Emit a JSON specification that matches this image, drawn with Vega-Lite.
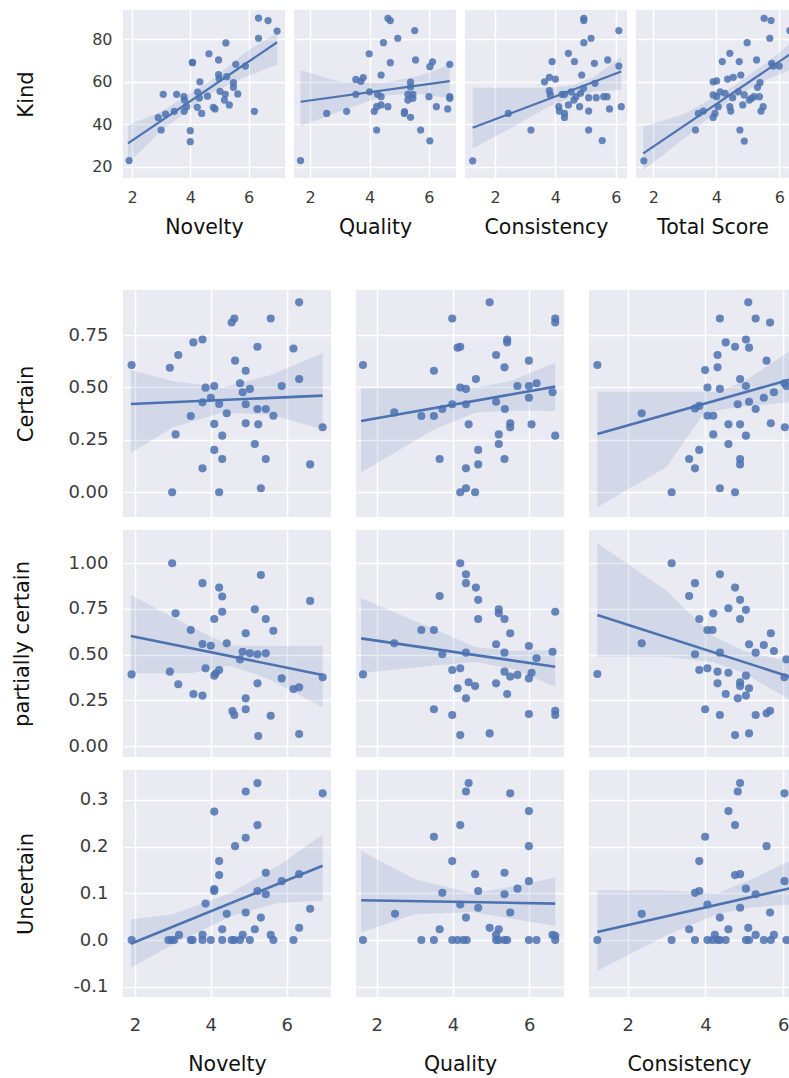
{
"$schema":"https://vega.github.io/schema/vega-lite/v6.json",
"background":"#ffffff",
"padding":{"left":10,"top":10,"right":0,"bottom":0},
"spacing":52,
"config":{"view":{"fill":"#EAEAF2","stroke":null},
"axis":{"domain":false,"ticks":false,"tickSize":0,"gridColor":"#ffffff","gridWidth":1.5,"labelFont":"DejaVu Sans","titleFont":"DejaVu Sans","labelColor":"#3c3c3c","titleColor":"#111111","titleFontWeight":"normal"},
"axisX":{"titleFontSize":20.5},"axisY":{"titleFontSize":21}},
"datasets":{
"pts":[
{"p":"kn","x":1.9,"y":22.9},{"p":"kn","x":2.9,"y":43.1},{"p":"kn","x":3.0,"y":37.3},{"p":"kn","x":3.07,"y":54.1},{"p":"kn","x":3.15,"y":44.8},{"p":"kn","x":3.45,"y":46.1},{"p":"kn","x":3.53,"y":54.1},{"p":"kn","x":3.78,"y":53},{"p":"kn","x":3.79,"y":46.1},{"p":"kn","x":3.8,"y":51.4},{"p":"kn","x":3.87,"y":48.3},{"p":"kn","x":4.0,"y":37},{"p":"kn","x":4.0,"y":31.8},{"p":"kn","x":4.07,"y":69.2},{"p":"kn","x":4.08,"y":69.0},{"p":"kn","x":4.24,"y":48},{"p":"kn","x":4.25,"y":55.2},{"p":"kn","x":4.31,"y":52.4},{"p":"kn","x":4.33,"y":60},{"p":"kn","x":4.39,"y":45.1},{"p":"kn","x":4.59,"y":53.2},{"p":"kn","x":4.64,"y":73.2},{"p":"kn","x":4.79,"y":48},{"p":"kn","x":4.85,"y":47.2},{"p":"kn","x":4.97,"y":70.3},{"p":"kn","x":4.97,"y":63.4},{"p":"kn","x":4.99,"y":61.6},{"p":"kn","x":5.02,"y":55.5},{"p":"kn","x":5.22,"y":78.3},{"p":"kn","x":5.2,"y":54.1},{"p":"kn","x":5.17,"y":51.4},{"p":"kn","x":5.25,"y":62.4},{"p":"kn","x":5.34,"y":49.1},{"p":"kn","x":5.48,"y":59.6},{"p":"kn","x":5.48,"y":57.4},{"p":"kn","x":5.56,"y":68.2},{"p":"kn","x":5.63,"y":54.3},{"p":"kn","x":5.89,"y":67.4},{"p":"kn","x":6.2,"y":46.1},{"p":"kn","x":6.34,"y":90},{"p":"kn","x":6.34,"y":80.5},{"p":"kn","x":6.67,"y":88.8},{"p":"kn","x":6.98,"y":83.9},
{"p":"kq","x":1.68,"y":22.9},{"p":"kq","x":2.56,"y":45.1},{"p":"kq","x":3.23,"y":46.1},{"p":"kq","x":3.54,"y":61.1},{"p":"kq","x":3.54,"y":54.1},{"p":"kq","x":3.71,"y":60.2},{"p":"kq","x":3.79,"y":62},{"p":"kq","x":3.99,"y":73.2},{"p":"kq","x":4.0,"y":55.3},{"p":"kq","x":4.16,"y":46.1},{"p":"kq","x":4.24,"y":37.3},{"p":"kq","x":4.24,"y":48.3},{"p":"kq","x":4.27,"y":54.1},{"p":"kq","x":4.39,"y":53},{"p":"kq","x":4.39,"y":63.2},{"p":"kq","x":4.39,"y":49.1},{"p":"kq","x":4.47,"y":78.4},{"p":"kq","x":4.62,"y":89.9},{"p":"kq","x":4.7,"y":88.8},{"p":"kq","x":4.7,"y":69},{"p":"kq","x":4.62,"y":48.3},{"p":"kq","x":4.95,"y":80.5},{"p":"kq","x":5.52,"y":84.1},{"p":"kq","x":5.55,"y":70.3},{"p":"kq","x":5.38,"y":59.8},{"p":"kq","x":5.38,"y":57.6},{"p":"kq","x":5.29,"y":54.1},{"p":"kq","x":5.29,"y":51.4},{"p":"kq","x":5.46,"y":54.1},{"p":"kq","x":5.46,"y":52.2},{"p":"kq","x":5.18,"y":46},{"p":"kq","x":5.17,"y":45.1},{"p":"kq","x":5.38,"y":43.3},{"p":"kq","x":5.72,"y":37.3},{"p":"kq","x":6.03,"y":32.2},{"p":"kq","x":6.03,"y":67.1},{"p":"kq","x":6.12,"y":69.4},{"p":"kq","x":6.0,"y":53},{"p":"kq","x":6.25,"y":48.3},{"p":"kq","x":6.63,"y":47.2},{"p":"kq","x":6.7,"y":53},{"p":"kq","x":6.7,"y":52.2},{"p":"kq","x":6.7,"y":68.2},
{"p":"kc","x":1.26,"y":22.8},{"p":"kc","x":2.44,"y":45.1},{"p":"kc","x":3.19,"y":37.3},{"p":"kc","x":3.64,"y":60},{"p":"kc","x":3.8,"y":62.1},{"p":"kc","x":3.89,"y":69.5},{"p":"kc","x":4.0,"y":61.3},{"p":"kc","x":3.8,"y":55.8},{"p":"kc","x":3.83,"y":53.8},{"p":"kc","x":4.11,"y":48.3},{"p":"kc","x":4.13,"y":46.2},{"p":"kc","x":4.3,"y":45.1},{"p":"kc","x":4.3,"y":43.2},{"p":"kc","x":4.22,"y":54.1},{"p":"kc","x":4.3,"y":54.1},{"p":"kc","x":4.43,"y":73.4},{"p":"kc","x":4.43,"y":49.1},{"p":"kc","x":4.52,"y":55.3},{"p":"kc","x":4.61,"y":51.4},{"p":"kc","x":4.63,"y":69.5},{"p":"kc","x":4.68,"y":53},{"p":"kc","x":4.8,"y":48.3},{"p":"kc","x":4.83,"y":54.6},{"p":"kc","x":4.87,"y":63.2},{"p":"kc","x":4.93,"y":56.9},{"p":"kc","x":4.94,"y":89.9},{"p":"kc","x":4.94,"y":88.8},{"p":"kc","x":4.94,"y":78.4},{"p":"kc","x":5.1,"y":52.5},{"p":"kc","x":5.1,"y":46.2},{"p":"kc","x":5.1,"y":37.3},{"p":"kc","x":5.18,"y":80.5},{"p":"kc","x":5.29,"y":68.7},{"p":"kc","x":5.31,"y":59.3},{"p":"kc","x":5.35,"y":52.5},{"p":"kc","x":5.55,"y":32.3},{"p":"kc","x":5.6,"y":53},{"p":"kc","x":5.71,"y":53},{"p":"kc","x":5.73,"y":70.3},{"p":"kc","x":5.79,"y":47.2},{"p":"kc","x":6.1,"y":84.1},{"p":"kc","x":6.1,"y":67.4},{"p":"kc","x":6.18,"y":48.3},
{"p":"kt","x":1.7,"y":22.8},{"p":"kt","x":3.34,"y":37.3},{"p":"kt","x":3.43,"y":45.1},{"p":"kt","x":3.59,"y":46.2},{"p":"kt","x":3.9,"y":60},{"p":"kt","x":3.9,"y":53.8},{"p":"kt","x":3.9,"y":43.2},{"p":"kt","x":3.96,"y":45.1},{"p":"kt","x":4.01,"y":60.4},{"p":"kt","x":4.01,"y":53},{"p":"kt","x":4.06,"y":48.3},{"p":"kt","x":4.12,"y":55.3},{"p":"kt","x":4.19,"y":69.5},{"p":"kt","x":4.28,"y":54.6},{"p":"kt","x":4.36,"y":61.3},{"p":"kt","x":4.43,"y":73.4},{"p":"kt","x":4.43,"y":48.3},{"p":"kt","x":4.46,"y":46.2},{"p":"kt","x":4.52,"y":52.5},{"p":"kt","x":4.54,"y":62.1},{"p":"kt","x":4.7,"y":55.3},{"p":"kt","x":4.73,"y":69.5},{"p":"kt","x":4.75,"y":37.3},{"p":"kt","x":4.78,"y":63.2},{"p":"kt","x":4.84,"y":49.1},{"p":"kt","x":4.89,"y":53.8},{"p":"kt","x":4.89,"y":32.1},{"p":"kt","x":4.98,"y":78.4},{"p":"kt","x":5.05,"y":51.4},{"p":"kt","x":5.12,"y":52.2},{"p":"kt","x":5.2,"y":53},{"p":"kt","x":5.28,"y":70.3},{"p":"kt","x":5.31,"y":57.4},{"p":"kt","x":5.37,"y":53},{"p":"kt","x":5.39,"y":59.6},{"p":"kt","x":5.42,"y":46.2},{"p":"kt","x":5.49,"y":48.3},{"p":"kt","x":5.52,"y":89.9},{"p":"kt","x":5.7,"y":80.5},{"p":"kt","x":5.74,"y":88.8},{"p":"kt","x":5.76,"y":68.7},{"p":"kt","x":5.81,"y":67.4},{"p":"kt","x":6.0,"y":67.4},{"p":"kt","x":6.34,"y":84.1},
{"p":"cn","x":1.91,"y":0.607},{"p":"cn","x":2.92,"y":0.594},{"p":"cn","x":3.07,"y":0.276},{"p":"cn","x":2.98,"y":0.0},{"p":"cn","x":3.14,"y":0.655},{"p":"cn","x":3.47,"y":0.364},{"p":"cn","x":3.54,"y":0.715},{"p":"cn","x":3.78,"y":0.729},{"p":"cn","x":3.78,"y":0.429},{"p":"cn","x":3.78,"y":0.114},{"p":"cn","x":3.86,"y":0.499},{"p":"cn","x":4.0,"y":0.451},{"p":"cn","x":4.09,"y":0.507},{"p":"cn","x":4.09,"y":0.326},{"p":"cn","x":4.09,"y":0.202},{"p":"cn","x":4.22,"y":0.421},{"p":"cn","x":4.22,"y":0.0},{"p":"cn","x":4.3,"y":0.27},{"p":"cn","x":4.3,"y":0.159},{"p":"cn","x":4.42,"y":0.377},{"p":"cn","x":4.55,"y":0.81},{"p":"cn","x":4.62,"y":0.829},{"p":"cn","x":4.64,"y":0.628},{"p":"cn","x":4.77,"y":0.52},{"p":"cn","x":4.84,"y":0.477},{"p":"cn","x":4.92,"y":0.58},{"p":"cn","x":4.92,"y":0.42},{"p":"cn","x":4.92,"y":0.329},{"p":"cn","x":5.03,"y":0.493},{"p":"cn","x":5.16,"y":0.23},{"p":"cn","x":5.23,"y":0.694},{"p":"cn","x":5.23,"y":0.397},{"p":"cn","x":5.25,"y":0.324},{"p":"cn","x":5.32,"y":0.019},{"p":"cn","x":5.45,"y":0.397},{"p":"cn","x":5.45,"y":0.159},{"p":"cn","x":5.58,"y":0.829},{"p":"cn","x":5.65,"y":0.365},{"p":"cn","x":5.87,"y":0.507},{"p":"cn","x":6.18,"y":0.686},{"p":"cn","x":6.33,"y":0.906},{"p":"cn","x":6.33,"y":0.54},{"p":"cn","x":6.62,"y":0.133},{"p":"cn","x":6.95,"y":0.31},
{"p":"pn","x":1.91,"y":0.392},{"p":"pn","x":2.92,"y":0.407},{"p":"pn","x":2.98,"y":1.0},{"p":"pn","x":3.07,"y":0.726},{"p":"pn","x":3.14,"y":0.338},{"p":"pn","x":3.47,"y":0.635},{"p":"pn","x":3.54,"y":0.285},{"p":"pn","x":3.78,"y":0.276},{"p":"pn","x":3.78,"y":0.558},{"p":"pn","x":3.78,"y":0.891},{"p":"pn","x":3.86,"y":0.425},{"p":"pn","x":4.0,"y":0.549},{"p":"pn","x":4.09,"y":0.695},{"p":"pn","x":4.09,"y":0.385},{"p":"pn","x":4.13,"y":0.398},{"p":"pn","x":4.22,"y":0.416},{"p":"pn","x":4.22,"y":0.867},{"p":"pn","x":4.3,"y":0.818},{"p":"pn","x":4.3,"y":0.735},{"p":"pn","x":4.42,"y":0.562},{"p":"pn","x":4.57,"y":0.192},{"p":"pn","x":4.62,"y":0.17},{"p":"pn","x":4.77,"y":0.474},{"p":"pn","x":4.84,"y":0.516},{"p":"pn","x":4.92,"y":0.617},{"p":"pn","x":4.92,"y":0.261},{"p":"pn","x":4.92,"y":0.201},{"p":"pn","x":5.03,"y":0.507},{"p":"pn","x":5.16,"y":0.748},{"p":"pn","x":5.23,"y":0.502},{"p":"pn","x":5.23,"y":0.343},{"p":"pn","x":5.25,"y":0.055},{"p":"pn","x":5.32,"y":0.936},{"p":"pn","x":5.45,"y":0.507},{"p":"pn","x":5.45,"y":0.695},{"p":"pn","x":5.58,"y":0.166},{"p":"pn","x":5.65,"y":0.631},{"p":"pn","x":5.87,"y":0.37},{"p":"pn","x":6.18,"y":0.312},{"p":"pn","x":6.33,"y":0.321},{"p":"pn","x":6.33,"y":0.066},{"p":"pn","x":6.62,"y":0.794},{"p":"pn","x":6.95,"y":0.376},
{"p":"un","x":1.91,"y":0},{"p":"un","x":2.88,"y":0},{"p":"un","x":2.97,"y":0},{"p":"un","x":3.03,"y":0},{"p":"un","x":3.16,"y":0.011},{"p":"un","x":3.47,"y":0},{"p":"un","x":3.52,"y":0},{"p":"un","x":3.78,"y":0},{"p":"un","x":3.78,"y":0.011},{"p":"un","x":3.86,"y":0.078},{"p":"un","x":4.0,"y":0},{"p":"un","x":4.09,"y":0.275},{"p":"un","x":4.09,"y":0.109},{"p":"un","x":4.09,"y":0.105},{"p":"un","x":4.22,"y":0.169},{"p":"un","x":4.22,"y":0.139},{"p":"un","x":4.3,"y":0.023},{"p":"un","x":4.3,"y":0},{"p":"un","x":4.42,"y":0.056},{"p":"un","x":4.55,"y":0},{"p":"un","x":4.62,"y":0},{"p":"un","x":4.64,"y":0.201},{"p":"un","x":4.77,"y":0},{"p":"un","x":4.84,"y":0.011},{"p":"un","x":4.92,"y":0.318},{"p":"un","x":4.92,"y":0.219},{"p":"un","x":4.92,"y":0.059},{"p":"un","x":5.03,"y":0},{"p":"un","x":5.16,"y":0.023},{"p":"un","x":5.23,"y":0.336},{"p":"un","x":5.23,"y":0.246},{"p":"un","x":5.23,"y":0.105},{"p":"un","x":5.32,"y":0.048},{"p":"un","x":5.45,"y":0.144},{"p":"un","x":5.45,"y":0.098},{"p":"un","x":5.58,"y":0.011},{"p":"un","x":5.65,"y":0},{"p":"un","x":5.87,"y":0.126},{"p":"un","x":6.18,"y":0},{"p":"un","x":6.33,"y":0.141},{"p":"un","x":6.33,"y":0.026},{"p":"un","x":6.62,"y":0.067},{"p":"un","x":6.95,"y":0.314},
{"p":"cq","x":1.64,"y":0.607},{"p":"cq","x":2.46,"y":0.381},{"p":"cq","x":3.17,"y":0.364},{"p":"cq","x":3.5,"y":0.364},{"p":"cq","x":3.5,"y":0.58},{"p":"cq","x":3.65,"y":0.159},{"p":"cq","x":3.72,"y":0.397},{"p":"cq","x":3.98,"y":0.42},{"p":"cq","x":3.98,"y":0.829},{"p":"cq","x":4.12,"y":0.69},{"p":"cq","x":4.19,"y":0.694},{"p":"cq","x":4.19,"y":0.5},{"p":"cq","x":4.34,"y":0.493},{"p":"cq","x":4.34,"y":0.42},{"p":"cq","x":4.41,"y":0.324},{"p":"cq","x":4.34,"y":0.114},{"p":"cq","x":4.19,"y":0.0},{"p":"cq","x":4.34,"y":0.019},{"p":"cq","x":4.58,"y":0.0},{"p":"cq","x":4.6,"y":0.54},{"p":"cq","x":4.66,"y":0.202},{"p":"cq","x":4.66,"y":0.133},{"p":"cq","x":4.96,"y":0.906},{"p":"cq","x":5.13,"y":0.655},{"p":"cq","x":5.13,"y":0.432},{"p":"cq","x":5.2,"y":0.276},{"p":"cq","x":5.2,"y":0.23},{"p":"cq","x":5.35,"y":0.596},{"p":"cq","x":5.36,"y":0.397},{"p":"cq","x":5.35,"y":0.159},{"p":"cq","x":5.42,"y":0.729},{"p":"cq","x":5.42,"y":0.715},{"p":"cq","x":5.5,"y":0.329},{"p":"cq","x":5.5,"y":0.31},{"p":"cq","x":5.69,"y":0.507},{"p":"cq","x":5.99,"y":0.628},{"p":"cq","x":5.99,"y":0.507},{"p":"cq","x":5.99,"y":0.451},{"p":"cq","x":6.06,"y":0.324},{"p":"cq","x":6.19,"y":0.52},{"p":"cq","x":6.61,"y":0.477},{"p":"cq","x":6.68,"y":0.829},{"p":"cq","x":6.68,"y":0.81},{"p":"cq","x":6.68,"y":0.27},
{"p":"pq","x":1.64,"y":0.392},{"p":"pq","x":2.46,"y":0.562},{"p":"pq","x":3.17,"y":0.635},{"p":"pq","x":3.5,"y":0.635},{"p":"pq","x":3.65,"y":0.821},{"p":"pq","x":3.5,"y":0.201},{"p":"pq","x":3.72,"y":0.502},{"p":"pq","x":3.98,"y":0.416},{"p":"pq","x":3.98,"y":0.17},{"p":"pq","x":4.19,"y":1.0},{"p":"pq","x":4.34,"y":0.94},{"p":"pq","x":4.34,"y":0.891},{"p":"pq","x":4.19,"y":0.425},{"p":"pq","x":4.34,"y":0.511},{"p":"pq","x":4.41,"y":0.349},{"p":"pq","x":4.34,"y":0.261},{"p":"pq","x":4.12,"y":0.316},{"p":"pq","x":4.19,"y":0.06},{"p":"pq","x":4.58,"y":0.328},{"p":"pq","x":4.6,"y":0.867},{"p":"pq","x":4.66,"y":0.8},{"p":"pq","x":4.66,"y":0.695},{"p":"pq","x":4.96,"y":0.069},{"p":"pq","x":5.13,"y":0.557},{"p":"pq","x":5.13,"y":0.343},{"p":"pq","x":5.2,"y":0.748},{"p":"pq","x":5.2,"y":0.726},{"p":"pq","x":5.35,"y":0.695},{"p":"pq","x":5.35,"y":0.511},{"p":"pq","x":5.35,"y":0.407},{"p":"pq","x":5.42,"y":0.285},{"p":"pq","x":5.5,"y":0.617},{"p":"pq","x":5.5,"y":0.38},{"p":"pq","x":5.69,"y":0.389},{"p":"pq","x":5.99,"y":0.547},{"p":"pq","x":5.99,"y":0.37},{"p":"pq","x":5.99,"y":0.175},{"p":"pq","x":6.06,"y":0.401},{"p":"pq","x":6.19,"y":0.48},{"p":"pq","x":6.61,"y":0.516},{"p":"pq","x":6.68,"y":0.735},{"p":"pq","x":6.68,"y":0.193},{"p":"pq","x":6.68,"y":0.17},
{"p":"uq","x":1.64,"y":0},{"p":"uq","x":2.48,"y":0.056},{"p":"uq","x":3.17,"y":0},{"p":"uq","x":3.5,"y":0},{"p":"uq","x":3.5,"y":0.221},{"p":"uq","x":3.65,"y":0.023},{"p":"uq","x":3.72,"y":0.101},{"p":"uq","x":3.98,"y":0},{"p":"uq","x":3.98,"y":0.169},{"p":"uq","x":4.12,"y":0},{"p":"uq","x":4.19,"y":0.246},{"p":"uq","x":4.19,"y":0.076},{"p":"uq","x":4.27,"y":0},{"p":"uq","x":4.34,"y":0.318},{"p":"uq","x":4.41,"y":0.336},{"p":"uq","x":4.34,"y":0.048},{"p":"uq","x":4.36,"y":0},{"p":"uq","x":4.58,"y":0.141},{"p":"uq","x":4.66,"y":0.105},{"p":"uq","x":4.66,"y":0.069},{"p":"uq","x":4.96,"y":0.026},{"p":"uq","x":5.13,"y":0.011},{"p":"uq","x":5.13,"y":0},{"p":"uq","x":5.2,"y":0.023},{"p":"uq","x":5.2,"y":0},{"p":"uq","x":5.35,"y":0.144},{"p":"uq","x":5.35,"y":0.098},{"p":"uq","x":5.35,"y":0},{"p":"uq","x":5.42,"y":0},{"p":"uq","x":5.5,"y":0.314},{"p":"uq","x":5.5,"y":0.059},{"p":"uq","x":5.69,"y":0.11},{"p":"uq","x":5.99,"y":0.276},{"p":"uq","x":5.99,"y":0.201},{"p":"uq","x":5.99,"y":0.126},{"p":"uq","x":5.99,"y":0},{"p":"uq","x":6.19,"y":0},{"p":"uq","x":6.61,"y":0.011},{"p":"uq","x":6.68,"y":0},{"p":"uq","x":6.68,"y":0.009},
{"p":"cc","x":1.22,"y":0.607},{"p":"cc","x":2.36,"y":0.377},{"p":"cc","x":3.13,"y":0.0},{"p":"cc","x":3.58,"y":0.159},{"p":"cc","x":3.73,"y":0.114},{"p":"cc","x":3.73,"y":0.4},{"p":"cc","x":3.84,"y":0.202},{"p":"cc","x":3.84,"y":0.412},{"p":"cc","x":3.99,"y":0.583},{"p":"cc","x":4.05,"y":0.5},{"p":"cc","x":4.05,"y":0.365},{"p":"cc","x":4.2,"y":0.365},{"p":"cc","x":4.2,"y":0.276},{"p":"cc","x":4.31,"y":0.596},{"p":"cc","x":4.31,"y":0.655},{"p":"cc","x":4.37,"y":0.829},{"p":"cc","x":4.37,"y":0.493},{"p":"cc","x":4.37,"y":0.019},{"p":"cc","x":4.52,"y":0.715},{"p":"cc","x":4.59,"y":0.324},{"p":"cc","x":4.59,"y":0.23},{"p":"cc","x":4.76,"y":0.694},{"p":"cc","x":4.76,"y":0.0},{"p":"cc","x":4.83,"y":0.42},{"p":"cc","x":4.89,"y":0.54},{"p":"cc","x":4.89,"y":0.324},{"p":"cc","x":4.89,"y":0.159},{"p":"cc","x":4.89,"y":0.133},{"p":"cc","x":5.04,"y":0.729},{"p":"cc","x":5.04,"y":0.507},{"p":"cc","x":5.04,"y":0.27},{"p":"cc","x":5.1,"y":0.906},{"p":"cc","x":5.12,"y":0.69},{"p":"cc","x":5.12,"y":0.432},{"p":"cc","x":5.29,"y":0.829},{"p":"cc","x":5.29,"y":0.397},{"p":"cc","x":5.5,"y":0.451},{"p":"cc","x":5.57,"y":0.628},{"p":"cc","x":5.66,"y":0.81},{"p":"cc","x":5.68,"y":0.329},{"p":"cc","x":5.76,"y":0.477},{"p":"cc","x":6.03,"y":0.52},{"p":"cc","x":6.04,"y":0.31},{"p":"cc","x":6.08,"y":0.507},
{"p":"pc","x":1.22,"y":0.394},{"p":"pc","x":2.36,"y":0.562},{"p":"pc","x":3.13,"y":1.0},{"p":"pc","x":3.58,"y":0.821},{"p":"pc","x":3.73,"y":0.891},{"p":"pc","x":3.73,"y":0.502},{"p":"pc","x":3.84,"y":0.695},{"p":"pc","x":3.84,"y":0.416},{"p":"pc","x":3.99,"y":0.201},{"p":"pc","x":4.05,"y":0.635},{"p":"pc","x":4.05,"y":0.425},{"p":"pc","x":4.18,"y":0.635},{"p":"pc","x":4.2,"y":0.726},{"p":"pc","x":4.31,"y":0.407},{"p":"pc","x":4.31,"y":0.343},{"p":"pc","x":4.37,"y":0.94},{"p":"pc","x":4.37,"y":0.511},{"p":"pc","x":4.37,"y":0.17},{"p":"pc","x":4.52,"y":0.285},{"p":"pc","x":4.59,"y":0.754},{"p":"pc","x":4.59,"y":0.401},{"p":"pc","x":4.76,"y":0.867},{"p":"pc","x":4.83,"y":0.261},{"p":"pc","x":4.76,"y":0.06},{"p":"pc","x":4.89,"y":0.8},{"p":"pc","x":4.89,"y":0.695},{"p":"pc","x":4.89,"y":0.349},{"p":"pc","x":4.89,"y":0.328},{"p":"pc","x":5.04,"y":0.745},{"p":"pc","x":5.04,"y":0.385},{"p":"pc","x":5.04,"y":0.276},{"p":"pc","x":5.12,"y":0.316},{"p":"pc","x":5.12,"y":0.069},{"p":"pc","x":5.12,"y":0.557},{"p":"pc","x":5.29,"y":0.511},{"p":"pc","x":5.29,"y":0.17},{"p":"pc","x":5.5,"y":0.553},{"p":"pc","x":5.57,"y":0.179},{"p":"pc","x":5.66,"y":0.193},{"p":"pc","x":5.68,"y":0.617},{"p":"pc","x":5.76,"y":0.52},{"p":"pc","x":6.03,"y":0.376},{"p":"pc","x":6.08,"y":0.474},
{"p":"uc","x":1.22,"y":0},{"p":"uc","x":2.36,"y":0.056},{"p":"uc","x":3.13,"y":0},{"p":"uc","x":3.58,"y":0.023},{"p":"uc","x":3.73,"y":0},{"p":"uc","x":3.73,"y":0.101},{"p":"uc","x":3.84,"y":0.169},{"p":"uc","x":3.84,"y":0.105},{"p":"uc","x":3.99,"y":0.221},{"p":"uc","x":4.05,"y":0},{"p":"uc","x":4.05,"y":0.076},{"p":"uc","x":4.18,"y":0},{"p":"uc","x":4.24,"y":0.011},{"p":"uc","x":4.31,"y":0},{"p":"uc","x":4.37,"y":0.048},{"p":"uc","x":4.37,"y":0},{"p":"uc","x":4.52,"y":0},{"p":"uc","x":4.59,"y":0.276},{"p":"uc","x":4.59,"y":0.023},{"p":"uc","x":4.76,"y":0.246},{"p":"uc","x":4.76,"y":0.139},{"p":"uc","x":4.83,"y":0.318},{"p":"uc","x":4.89,"y":0.336},{"p":"uc","x":4.89,"y":0.141},{"p":"uc","x":4.89,"y":0.069},{"p":"uc","x":5.04,"y":0.11},{"p":"uc","x":5.04,"y":0},{"p":"uc","x":5.1,"y":0.026},{"p":"uc","x":5.12,"y":0},{"p":"uc","x":5.29,"y":0.098},{"p":"uc","x":5.29,"y":0.011},{"p":"uc","x":5.5,"y":0},{"p":"uc","x":5.57,"y":0.201},{"p":"uc","x":5.66,"y":0.059},{"p":"uc","x":5.68,"y":0},{"p":"uc","x":5.76,"y":0.011},{"p":"uc","x":6.03,"y":0.314},{"p":"uc","x":6.03,"y":0.126},{"p":"uc","x":6.08,"y":0}
],
"fit":[
{"p":"kn","x":1.86,"y":31.0},{"p":"kn","x":6.98,"y":78.6},
{"p":"kq","x":1.68,"y":50.6},{"p":"kq","x":6.7,"y":60.3},
{"p":"kc","x":1.26,"y":38.4},{"p":"kc","x":6.18,"y":64.8},
{"p":"kt","x":1.68,"y":26.3},{"p":"kt","x":6.4,"y":73.5},
{"p":"cn","x":1.89,"y":0.421},{"p":"cn","x":6.95,"y":0.461},
{"p":"cq","x":1.59,"y":0.34},{"p":"cq","x":6.68,"y":0.504},
{"p":"cc","x":1.22,"y":0.278},{"p":"cc","x":6.18,"y":0.538},
{"p":"pn","x":1.89,"y":0.602},{"p":"pn","x":6.95,"y":0.389},
{"p":"pq","x":1.59,"y":0.589},{"p":"pq","x":6.68,"y":0.434},
{"p":"pc","x":1.22,"y":0.717},{"p":"pc","x":6.18,"y":0.378},
{"p":"un","x":1.89,"y":-0.008},{"p":"un","x":6.95,"y":0.159},
{"p":"uq","x":1.59,"y":0.085},{"p":"uq","x":6.68,"y":0.078},
{"p":"uc","x":1.22,"y":0.017},{"p":"uc","x":6.18,"y":0.111}
],
"band":[
{"p":"kn","x":1.86,"y":21.6,"hi":39.5},{"p":"kn","x":3.0,"y":37,"hi":46},{"p":"kn","x":4.7,"y":54.5,"hi":60.5},{"p":"kn","x":6.0,"y":63,"hi":75},{"p":"kn","x":6.98,"y":68,"hi":83},
{"p":"kq","x":1.68,"y":39.1,"hi":65.5},{"p":"kq","x":3.0,"y":46,"hi":60},{"p":"kq","x":4.5,"y":53.5,"hi":59.5},{"p":"kq","x":5.6,"y":54.5,"hi":62.5},{"p":"kq","x":6.7,"y":52.2,"hi":67.9},
{"p":"kc","x":1.26,"y":28.6,"hi":57.2},{"p":"kc","x":2.5,"y":38,"hi":57.2},{"p":"kc","x":3.8,"y":48.5,"hi":57.2},{"p":"kc","x":4.6,"y":53,"hi":58.5},{"p":"kc","x":5.3,"y":55.5,"hi":62.5},{"p":"kc","x":6.18,"y":56.1,"hi":71.8},
{"p":"kt","x":1.68,"y":18.4,"hi":38.8},{"p":"kt","x":3.0,"y":33.5,"hi":45},{"p":"kt","x":4.5,"y":52,"hi":57.5},{"p":"kt","x":5.6,"y":61,"hi":69},{"p":"kt","x":6.4,"y":66,"hi":78.5},
{"p":"cn","x":1.89,"y":0.187,"hi":0.583},{"p":"cn","x":3.0,"y":0.31,"hi":0.53},{"p":"cn","x":4.3,"y":0.38,"hi":0.50},{"p":"cn","x":5.6,"y":0.37,"hi":0.56},{"p":"cn","x":6.95,"y":0.30,"hi":0.664},
{"p":"cq","x":1.59,"y":0.094,"hi":0.496},{"p":"cq","x":3.5,"y":0.30,"hi":0.496},{"p":"cq","x":4.6,"y":0.38,"hi":0.50},{"p":"cq","x":5.5,"y":0.39,"hi":0.53},{"p":"cq","x":6.68,"y":0.388,"hi":0.618},
{"p":"cc","x":1.22,"y":-0.072,"hi":0.48},{"p":"cc","x":3.0,"y":0.12,"hi":0.48},{"p":"cc","x":3.93,"y":0.37,"hi":0.48},{"p":"cc","x":4.3,"y":0.39,"hi":0.48},{"p":"cc","x":5.0,"y":0.41,"hi":0.53},{"p":"cc","x":6.18,"y":0.43,"hi":0.675},
{"p":"pn","x":1.89,"y":0.398,"hi":0.827},{"p":"pn","x":3.5,"y":0.40,"hi":0.65},{"p":"pn","x":4.5,"y":0.44,"hi":0.55},{"p":"pn","x":5.5,"y":0.37,"hi":0.547},{"p":"pn","x":6.95,"y":0.212,"hi":0.547},
{"p":"pq","x":1.59,"y":0.398,"hi":0.808},{"p":"pq","x":3.5,"y":0.44,"hi":0.64},{"p":"pq","x":4.6,"y":0.46,"hi":0.54},{"p":"pq","x":5.6,"y":0.42,"hi":0.52},{"p":"pq","x":6.68,"y":0.325,"hi":0.526},
{"p":"pc","x":1.22,"y":0.489,"hi":1.109},{"p":"pc","x":3.0,"y":0.489,"hi":0.85},{"p":"pc","x":4.2,"y":0.46,"hi":0.60},{"p":"pc","x":5.0,"y":0.40,"hi":0.52},{"p":"pc","x":6.18,"y":0.25,"hi":0.46},
{"p":"un","x":1.89,"y":-0.059,"hi":0.044},{"p":"un","x":3.0,"y":-0.01,"hi":0.055},{"p":"un","x":4.5,"y":0.05,"hi":0.10},{"p":"un","x":5.8,"y":0.08,"hi":0.16},{"p":"un","x":6.95,"y":0.084,"hi":0.226},
{"p":"uq","x":1.59,"y":0.016,"hi":0.191},{"p":"uq","x":3.0,"y":0.055,"hi":0.13},{"p":"uq","x":4.5,"y":0.06,"hi":0.10},{"p":"uq","x":5.6,"y":0.045,"hi":0.115},{"p":"uq","x":6.68,"y":0.03,"hi":0.134},
{"p":"uc","x":1.22,"y":-0.066,"hi":0.106},{"p":"uc","x":3.0,"y":0.01,"hi":0.106},{"p":"uc","x":4.3,"y":0.055,"hi":0.10},{"p":"uc","x":5.2,"y":0.07,"hi":0.13},{"p":"uc","x":6.18,"y":0.076,"hi":0.17}
]
},
"vconcat":[
{"hconcat":[
{"width":162,"height":168,
"encoding":{"x":{"field":"x","type":"quantitative","scale":{"domain":[1.69,7.25],"nice":false,"zero":false},"axis":{"values":[2,4,6],"title":"Novelty","labelFontSize":16,"labelPadding":11,"titleY":55,"titleBaseline":"alphabetic"}},
"y":{"field":"y","type":"quantitative","scale":{"domain":[14.7,93.8],"nice":false,"zero":false},"axis":{"values":[20,40,60,80],"title":"Kind","titleX":-91,"titleBaseline":"alphabetic","labelFontSize":16,"labelPadding":11}}},
"layer":[
{"data":{"name":"band"},"transform":[{"filter":"datum.p=='kn'"}],"mark":{"type":"area","color":"#4C72B0","opacity":0.15,"clip":true},"encoding":{"y2":{"field":"hi"}}},
{"data":{"name":"fit"},"transform":[{"filter":"datum.p=='kn'"}],"mark":{"type":"line","color":"#4C72B0","strokeWidth":2.2,"clip":true},"encoding":{}},
{"data":{"name":"pts"},"transform":[{"filter":"datum.p=='kn'"}],"mark":{"type":"circle","color":"#4C72B0","opacity":0.85,"size":52,"clip":true},"encoding":{}}]},
{"width":162,"height":168,
"encoding":{"x":{"field":"x","type":"quantitative","scale":{"domain":[1.46,6.91],"nice":false,"zero":false},"axis":{"values":[2,4,6],"title":"Quality","labelFontSize":16,"labelPadding":11,"titleY":55,"titleBaseline":"alphabetic"}},
"y":{"field":"y","type":"quantitative","scale":{"domain":[14.7,93.8],"nice":false,"zero":false},"axis":{"values":[20,40,60,80],"labels":false,"title":null}}},
"layer":[
{"data":{"name":"band"},"transform":[{"filter":"datum.p=='kq'"}],"mark":{"type":"area","color":"#4C72B0","opacity":0.15,"clip":true},"encoding":{"y2":{"field":"hi"}}},
{"data":{"name":"fit"},"transform":[{"filter":"datum.p=='kq'"}],"mark":{"type":"line","color":"#4C72B0","strokeWidth":2.2,"clip":true},"encoding":{}},
{"data":{"name":"pts"},"transform":[{"filter":"datum.p=='kq'"}],"mark":{"type":"circle","color":"#4C72B0","opacity":0.85,"size":52,"clip":true},"encoding":{}}]},
{"width":162,"height":168,
"encoding":{"x":{"field":"x","type":"quantitative","scale":{"domain":[1.006,6.37],"nice":false,"zero":false},"axis":{"values":[2,4,6],"title":"Consistency","labelFontSize":16,"labelPadding":11,"titleY":55,"titleBaseline":"alphabetic"}},
"y":{"field":"y","type":"quantitative","scale":{"domain":[14.7,93.8],"nice":false,"zero":false},"axis":{"values":[20,40,60,80],"labels":false,"title":null}}},
"layer":[
{"data":{"name":"band"},"transform":[{"filter":"datum.p=='kc'"}],"mark":{"type":"area","color":"#4C72B0","opacity":0.15,"clip":true},"encoding":{"y2":{"field":"hi"}}},
{"data":{"name":"fit"},"transform":[{"filter":"datum.p=='kc'"}],"mark":{"type":"line","color":"#4C72B0","strokeWidth":2.2,"clip":true},"encoding":{}},
{"data":{"name":"pts"},"transform":[{"filter":"datum.p=='kc'"}],"mark":{"type":"circle","color":"#4C72B0","opacity":0.85,"size":52,"clip":true},"encoding":{}}]},
{"width":153,"height":168,
"encoding":{"x":{"field":"x","type":"quantitative","scale":{"domain":[1.45,6.31],"nice":false,"zero":false},"axis":{"values":[2,4,6],"title":"Total Score","labelFontSize":16,"labelPadding":11,"titleY":55,"titleBaseline":"alphabetic"}},
"y":{"field":"y","type":"quantitative","scale":{"domain":[14.7,93.8],"nice":false,"zero":false},"axis":{"values":[20,40,60,80],"labels":false,"title":null}}},
"layer":[
{"data":{"name":"band"},"transform":[{"filter":"datum.p=='kt'"}],"mark":{"type":"area","color":"#4C72B0","opacity":0.15,"clip":true},"encoding":{"y2":{"field":"hi"}}},
{"data":{"name":"fit"},"transform":[{"filter":"datum.p=='kt'"}],"mark":{"type":"line","color":"#4C72B0","strokeWidth":2.2,"clip":true},"encoding":{}},
{"data":{"name":"pts"},"transform":[{"filter":"datum.p=='kt'"}],"mark":{"type":"circle","color":"#4C72B0","opacity":0.85,"size":52,"clip":true},"encoding":{}}]}
],"spacing":9,"bounds":"flush"},
{"concat":[
{"width":208,"height":227,
"encoding":{"x":{"field":"x","type":"quantitative","scale":{"domain":[1.683,7.17],"nice":false,"zero":false},"axis":{"values":[2,4,6],"labels":false,"title":null}},
"y":{"field":"y","type":"quantitative","scale":{"domain":[-0.118,0.965],"nice":false,"zero":false},"axis":{"values":[0,0.25,0.5,0.75],"format":".2f","title":"Certain","titleX":-91,"titleBaseline":"alphabetic","labelFontSize":18,"labelPadding":15}}},
"layer":[
{"data":{"name":"band"},"transform":[{"filter":"datum.p=='cn'"}],"mark":{"type":"area","color":"#4C72B0","opacity":0.15,"clip":true},"encoding":{"y2":{"field":"hi"}}},
{"data":{"name":"fit"},"transform":[{"filter":"datum.p=='cn'"}],"mark":{"type":"line","color":"#4C72B0","strokeWidth":2.6,"clip":true},"encoding":{}},
{"data":{"name":"pts"},"transform":[{"filter":"datum.p=='cn'"}],"mark":{"type":"circle","color":"#4C72B0","opacity":0.85,"size":66,"clip":true},"encoding":{}}]},
{"width":208,"height":227,
"encoding":{"x":{"field":"x","type":"quantitative","scale":{"domain":[1.457,6.91],"nice":false,"zero":false},"axis":{"values":[2,4,6],"labels":false,"title":null}},
"y":{"field":"y","type":"quantitative","scale":{"domain":[-0.118,0.965],"nice":false,"zero":false},"axis":{"values":[0,0.25,0.5,0.75],"labels":false,"title":null}}},
"layer":[
{"data":{"name":"band"},"transform":[{"filter":"datum.p=='cq'"}],"mark":{"type":"area","color":"#4C72B0","opacity":0.15,"clip":true},"encoding":{"y2":{"field":"hi"}}},
{"data":{"name":"fit"},"transform":[{"filter":"datum.p=='cq'"}],"mark":{"type":"line","color":"#4C72B0","strokeWidth":2.6,"clip":true},"encoding":{}},
{"data":{"name":"pts"},"transform":[{"filter":"datum.p=='cq'"}],"mark":{"type":"circle","color":"#4C72B0","opacity":0.85,"size":66,"clip":true},"encoding":{}}]},
{"width":200,"height":227,
"encoding":{"x":{"field":"x","type":"quantitative","scale":{"domain":[1.005,6.147],"nice":false,"zero":false},"axis":{"values":[2,4,6],"labels":false,"title":null}},
"y":{"field":"y","type":"quantitative","scale":{"domain":[-0.118,0.965],"nice":false,"zero":false},"axis":{"values":[0,0.25,0.5,0.75],"labels":false,"title":null}}},
"layer":[
{"data":{"name":"band"},"transform":[{"filter":"datum.p=='cc'"}],"mark":{"type":"area","color":"#4C72B0","opacity":0.15,"clip":true},"encoding":{"y2":{"field":"hi"}}},
{"data":{"name":"fit"},"transform":[{"filter":"datum.p=='cc'"}],"mark":{"type":"line","color":"#4C72B0","strokeWidth":2.6,"clip":true},"encoding":{}},
{"data":{"name":"pts"},"transform":[{"filter":"datum.p=='cc'"}],"mark":{"type":"circle","color":"#4C72B0","opacity":0.85,"size":66,"clip":true},"encoding":{}}]},
{"width":208,"height":227,
"encoding":{"x":{"field":"x","type":"quantitative","scale":{"domain":[1.683,7.17],"nice":false,"zero":false},"axis":{"values":[2,4,6],"labels":false,"title":null}},
"y":{"field":"y","type":"quantitative","scale":{"domain":[-0.06,1.182],"nice":false,"zero":false},"axis":{"values":[0,0.25,0.5,0.75,1],"format":".2f","title":"partially certain","titleX":-95,"titleBaseline":"alphabetic","labelFontSize":18,"labelPadding":15}}},
"layer":[
{"data":{"name":"band"},"transform":[{"filter":"datum.p=='pn'"}],"mark":{"type":"area","color":"#4C72B0","opacity":0.15,"clip":true},"encoding":{"y2":{"field":"hi"}}},
{"data":{"name":"fit"},"transform":[{"filter":"datum.p=='pn'"}],"mark":{"type":"line","color":"#4C72B0","strokeWidth":2.6,"clip":true},"encoding":{}},
{"data":{"name":"pts"},"transform":[{"filter":"datum.p=='pn'"}],"mark":{"type":"circle","color":"#4C72B0","opacity":0.85,"size":66,"clip":true},"encoding":{}}]},
{"width":208,"height":227,
"encoding":{"x":{"field":"x","type":"quantitative","scale":{"domain":[1.457,6.91],"nice":false,"zero":false},"axis":{"values":[2,4,6],"labels":false,"title":null}},
"y":{"field":"y","type":"quantitative","scale":{"domain":[-0.06,1.182],"nice":false,"zero":false},"axis":{"values":[0,0.25,0.5,0.75,1],"labels":false,"title":null}}},
"layer":[
{"data":{"name":"band"},"transform":[{"filter":"datum.p=='pq'"}],"mark":{"type":"area","color":"#4C72B0","opacity":0.15,"clip":true},"encoding":{"y2":{"field":"hi"}}},
{"data":{"name":"fit"},"transform":[{"filter":"datum.p=='pq'"}],"mark":{"type":"line","color":"#4C72B0","strokeWidth":2.6,"clip":true},"encoding":{}},
{"data":{"name":"pts"},"transform":[{"filter":"datum.p=='pq'"}],"mark":{"type":"circle","color":"#4C72B0","opacity":0.85,"size":66,"clip":true},"encoding":{}}]},
{"width":200,"height":227,
"encoding":{"x":{"field":"x","type":"quantitative","scale":{"domain":[1.005,6.147],"nice":false,"zero":false},"axis":{"values":[2,4,6],"labels":false,"title":null}},
"y":{"field":"y","type":"quantitative","scale":{"domain":[-0.06,1.182],"nice":false,"zero":false},"axis":{"values":[0,0.25,0.5,0.75,1],"labels":false,"title":null}}},
"layer":[
{"data":{"name":"band"},"transform":[{"filter":"datum.p=='pc'"}],"mark":{"type":"area","color":"#4C72B0","opacity":0.15,"clip":true},"encoding":{"y2":{"field":"hi"}}},
{"data":{"name":"fit"},"transform":[{"filter":"datum.p=='pc'"}],"mark":{"type":"line","color":"#4C72B0","strokeWidth":2.6,"clip":true},"encoding":{}},
{"data":{"name":"pts"},"transform":[{"filter":"datum.p=='pc'"}],"mark":{"type":"circle","color":"#4C72B0","opacity":0.85,"size":66,"clip":true},"encoding":{}}]},
{"width":208,"height":227,
"encoding":{"x":{"field":"x","type":"quantitative","scale":{"domain":[1.683,7.17],"nice":false,"zero":false},"axis":{"values":[2,4,6],"title":"Novelty","labelFontSize":18,"labelPadding":19,"titleY":73,"titleBaseline":"alphabetic"}},
"y":{"field":"y","type":"quantitative","scale":{"domain":[-0.122,0.364],"nice":false,"zero":false},"axis":{"values":[-0.1,0,0.1,0.2,0.3],"labelExpr":"replace(format(datum.value,'.1f'),'\u2212','-')","title":"Uncertain","titleX":-91,"titleBaseline":"alphabetic","labelFontSize":18,"labelPadding":15}}},
"layer":[
{"data":{"name":"band"},"transform":[{"filter":"datum.p=='un'"}],"mark":{"type":"area","color":"#4C72B0","opacity":0.15,"clip":true},"encoding":{"y2":{"field":"hi"}}},
{"data":{"name":"fit"},"transform":[{"filter":"datum.p=='un'"}],"mark":{"type":"line","color":"#4C72B0","strokeWidth":2.6,"clip":true},"encoding":{}},
{"data":{"name":"pts"},"transform":[{"filter":"datum.p=='un'"}],"mark":{"type":"circle","color":"#4C72B0","opacity":0.85,"size":66,"clip":true},"encoding":{}}]},
{"width":208,"height":227,
"encoding":{"x":{"field":"x","type":"quantitative","scale":{"domain":[1.457,6.91],"nice":false,"zero":false},"axis":{"values":[2,4,6],"title":"Quality","labelFontSize":18,"labelPadding":19,"titleY":73,"titleBaseline":"alphabetic"}},
"y":{"field":"y","type":"quantitative","scale":{"domain":[-0.122,0.364],"nice":false,"zero":false},"axis":{"values":[-0.1,0,0.1,0.2,0.3],"labels":false,"title":null}}},
"layer":[
{"data":{"name":"band"},"transform":[{"filter":"datum.p=='uq'"}],"mark":{"type":"area","color":"#4C72B0","opacity":0.15,"clip":true},"encoding":{"y2":{"field":"hi"}}},
{"data":{"name":"fit"},"transform":[{"filter":"datum.p=='uq'"}],"mark":{"type":"line","color":"#4C72B0","strokeWidth":2.6,"clip":true},"encoding":{}},
{"data":{"name":"pts"},"transform":[{"filter":"datum.p=='uq'"}],"mark":{"type":"circle","color":"#4C72B0","opacity":0.85,"size":66,"clip":true},"encoding":{}}]},
{"width":200,"height":227,
"encoding":{"x":{"field":"x","type":"quantitative","scale":{"domain":[1.005,6.147],"nice":false,"zero":false},"axis":{"values":[2,4,6],"title":"Consistency","labelFontSize":18,"labelPadding":19,"titleY":73,"titleBaseline":"alphabetic"}},
"y":{"field":"y","type":"quantitative","scale":{"domain":[-0.122,0.364],"nice":false,"zero":false},"axis":{"values":[-0.1,0,0.1,0.2,0.3],"labels":false,"title":null}}},
"layer":[
{"data":{"name":"band"},"transform":[{"filter":"datum.p=='uc'"}],"mark":{"type":"area","color":"#4C72B0","opacity":0.15,"clip":true},"encoding":{"y2":{"field":"hi"}}},
{"data":{"name":"fit"},"transform":[{"filter":"datum.p=='uc'"}],"mark":{"type":"line","color":"#4C72B0","strokeWidth":2.6,"clip":true},"encoding":{}},
{"data":{"name":"pts"},"transform":[{"filter":"datum.p=='uc'"}],"mark":{"type":"circle","color":"#4C72B0","opacity":0.85,"size":66,"clip":true},"encoding":{}}]}
],"columns":3,"spacing":{"row":13,"column":25},"bounds":"flush"}
]
}
